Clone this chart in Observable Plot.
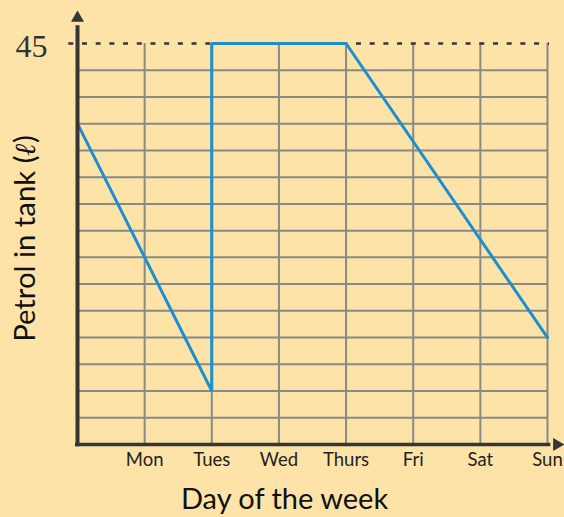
<!DOCTYPE html>
<html><head><meta charset="utf-8">
<script src="https://cdn.jsdelivr.net/npm/d3@7"></script>
<script src="https://cdn.jsdelivr.net/npm/@observablehq/plot@0.6"></script>
<style>html,body{margin:0;padding:0;background:#fde3a7;}</style>
</head><body><div id="chart"></div>
<script>
// ---- data ----
const dayLabels = ["Mon", "Tues", "Wed", "Thurs", "Fri", "Sat", "Sun"];
const dayPositions = [1, 2, 3, 4, 5, 6, 7];
const lineDays = [0, 2, 2, 4, 7];
const petrolLitres = [36, 6, 45, 45, 12];
const gridLevels = [3, 6, 9, 12, 15, 18, 21, 24, 27, 30, 33, 36, 39, 42];
const fullTank = [45];
const xTitle = "Day of the week";
const yTitle = "Petrol in tank (ℓ)";

const lineData = lineDays.map((d, i) => ({day: d, litres: petrolLitres[i]}));

const ink = "#363636";
const gridColor = "#898989";

const chart = Plot.plot({
  width: 564,
  height: 517,
  marginLeft: 77,
  marginRight: 17,
  marginTop: 43,
  marginBottom: 73,
  style: {background: "#fde3a7", fontFamily: "Lato, sans-serif", color: "#222", overflow: "visible"},
  x: {domain: [0, 7]},
  y: {domain: [0, 45]},
  marks: [
    // horizontal grid
    Plot.ruleY(gridLevels, {x1: 0, x2: 7, stroke: gridColor, strokeWidth: 2}),
    // vertical grid
    Plot.ruleX(dayPositions, {y1: 0, y2: 45, stroke: gridColor, strokeWidth: 2}),
    // dashed full-tank line
    Plot.ruleY(fullTank, {x1: -0.13, x2: 7.03, stroke: ink, strokeWidth: 2.5, strokeDasharray: "5,8.7"}),
    // petrol line
    Plot.line(lineData, {x: "day", y: "litres", stroke: "#1b8fcf", strokeWidth: 3, strokeLinejoin: "miter"}),
    // axes lines
    Plot.ruleX([0], {y1: -0.25, y2: 47, stroke: ink, strokeWidth: 4}),
    Plot.ruleY([0], {x1: -0.03, x2: 7.05, stroke: ink, strokeWidth: 3.5}),
    // arrow heads
    Plot.dot([0], {x: 0, y: 47.86, symbol: "triangle", r: 4.85, fill: ink, stroke: "none"}),
    Plot.dot([0], {x: 7.14, y: 0, symbol: "triangle", r: 4.85, fill: ink, stroke: "none", rotate: 90}),
    // tick labels
    Plot.axisX(dayPositions, {tickFormat: (d) => dayLabels[d - 1], tickSize: 0, tickPadding: 8, fontSize: 18.5, label: null, fill: "#222"}),
    Plot.axisY(fullTank, {tickSize: 0, tickPadding: 30, fontSize: 32, fontFamily: "Liberation Serif, serif", label: null, fill: "#333", dy: 3}),
    // titles
    Plot.text([xTitle], {text: (d) => d, frameAnchor: "bottom", lineAnchor: "middle", dy: 55.5, dx: -28, fontSize: 29, fill: "#111"}),
    Plot.text([yTitle], {text: (d) => d, frameAnchor: "left", textAnchor: "middle", lineAnchor: "middle", rotate: -90, dx: -52, dy: -5.5, fontSize: 29.3, fill: "#111"})
  ]
});

// bold italic ℓ
d3.select(chart).selectAll("text").each(function () {
  const t = this.textContent;
  if (t === yTitle) {
    const i = t.indexOf("ℓ");
    const sel = d3.select(this);
    sel.text(null);
    sel.append("tspan").text(t.slice(0, i));
    sel.append("tspan").attr("font-style", "italic").attr("font-weight", "bold").attr("font-family", "DejaVu Serif, serif").text("ℓ");
    sel.append("tspan").text(t.slice(i + 1));
  }
});

document.getElementById("chart").appendChild(chart);
</script>
</body></html>
